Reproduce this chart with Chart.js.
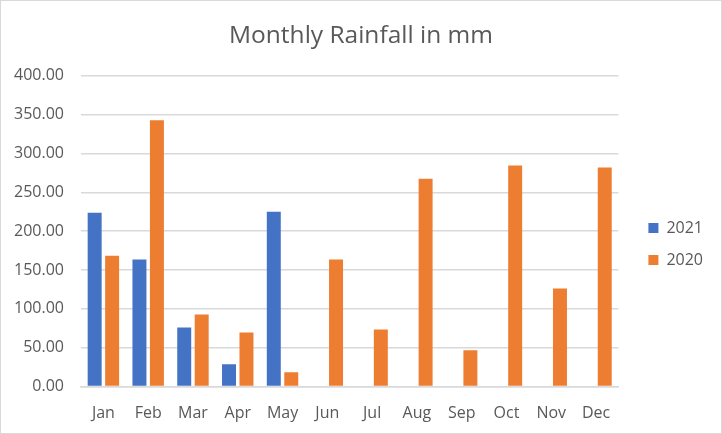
<!DOCTYPE html>
<html>
<head>
<meta charset="utf-8">
<script src="https://cdn.jsdelivr.net/npm/chart.js@4.4.1/dist/chart.umd.min.js"></script>
<style>
  html, body { margin: 0; padding: 0; background: #fff; }
  #wrap {
    position: relative;
    width: 722px;
    height: 434px;
    box-sizing: border-box;
    border: 1px solid #d9d9d9;
  }
  #myChart { display: block; }
</style>
</head>
<body>
<div id="wrap">
  <canvas id="myChart" width="720" height="432"></canvas>
</div>
<script>
const months = ["Jan", "Feb", "Mar", "Apr", "May", "Jun", "Jul", "Aug", "Sep", "Oct", "Nov", "Dec"];
const rain2021 = [223.7, 163.4, 76.0, 28.6, 225.0, null, null, null, null, null, null, null];
const rain2020 = [168.5, 343.0, 92.8, 69.7, 18.4, 163.4, 73.5, 267.4, 46.6, 284.6, 126.3, 282.0];

const textColor = "#595959";
const gridColor = "#d9d9d9";
const fontFamily = "'Open Sans', sans-serif";

// Excel puts the legend a bit away from the plot and centres the title on
// the whole chart, so nudge both after layout
const layoutNudge = {
  id: "layoutNudge",
  afterLayout(chart) {
    const legend = chart.legend;
    if (legend) {
      legend.left += 14;
      legend.right += 14;
      legend.top += 27;
      legend.bottom += 27;
    }
    const title = chart.titleBlock;
    if (title) {
      title.left += 11;
      title.right += 11;
    }
  },
};

function initChart() {
  const ctx = document.getElementById("myChart").getContext("2d");

  return new Chart(ctx, {
    type: "bar",
    data: {
      labels: months,
      datasets: [
        {
          label: "2021",
          data: rain2021,
          backgroundColor: "#4472C4",
          categoryPercentage: 0.78,
          barPercentage: 0.8,
        },
        {
          label: "2020",
          data: rain2020,
          backgroundColor: "#ED7D31",
          categoryPercentage: 0.78,
          barPercentage: 0.8,
        },
      ],
    },
    options: {
      responsive: false,
      animation: false,
      layout: {
        padding: { left: 0, right: 22, top: 0, bottom: 0 },
      },
      plugins: {
        title: {
          display: true,
          text: "Monthly Rainfall in mm",
          color: textColor,
          font: { family: fontFamily, size: 24.5, weight: "normal" },
          padding: { top: 20.5, bottom: 25 },
        },
        legend: {
          position: "right",
          labels: {
            color: textColor,
            font: { family: fontFamily, size: 16 },
            boxWidth: 10,
            boxHeight: 10,
            padding: 16,
          },
        },
        tooltip: { enabled: false },
      },
      scales: {
        x: {
          grid: { display: false, drawTicks: false },
          border: { color: gridColor, width: 1.5 },
          ticks: {
            color: textColor,
            font: { family: fontFamily, size: 16 },
            padding: 17,
          },
          afterFit: (scale) => {
            scale.height = 46.5;
          },
        },
        y: {
          min: 0,
          max: 400,
          beginAtZero: true,
          grid: { color: gridColor, lineWidth: 1.5, drawTicks: false },
          border: { display: false },
          ticks: {
            stepSize: 50,
            color: textColor,
            font: { family: fontFamily, size: 16 },
            padding: 17,
            callback: (v) => v.toFixed(2),
          },
          afterFit: (scale) => {
            scale.width = 80;
          },
        },
      },
    },
    plugins: [layoutNudge],
  });
}

initChart();
</script>
</body>
</html>
